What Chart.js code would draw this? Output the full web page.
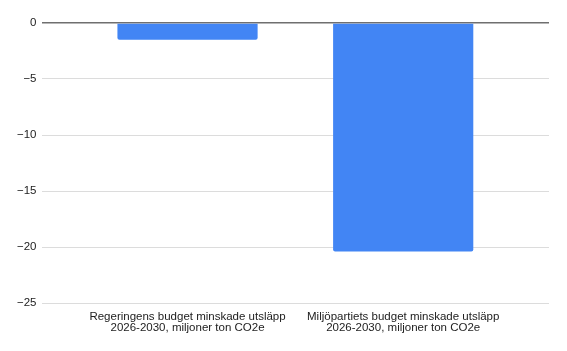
<!DOCTYPE html>
<html>
<head>
<meta charset="utf-8">
<script src="https://cdn.jsdelivr.net/npm/chart.js@4"></script>
<style>
  html, body { margin: 0; padding: 0; background: #fff; }
  #wrap { width: 567px; height: 351px; }
</style>
</head>
<body>
<div id="wrap"><canvas id="chart"></canvas></div>
<script>
const categories = [
  ["Regeringens budget minskade utsläpp", "2026-2030, miljoner ton CO2e"],
  ["Miljöpartiets budget minskade utsläpp", "2026-2030, miljoner ton CO2e"]
];
const values = [-1.5, -20.4];
const yTicks = [0, -5, -10, -15, -20, -25];

const points = values.map((v, i) => ({ x: i, y: v }));

new Chart(document.getElementById("chart"), {
  type: "bar",
  data: {
    datasets: [{
      data: points,
      backgroundColor: "#4285f4",
      borderRadius: 2,
      borderSkipped: "start",
      barPercentage: 0.65,
      categoryPercentage: 1
    }]
  },
  options: {
    responsive: true,
    maintainAspectRatio: false,
    animation: false,
    layout: { padding: { top: 23, right: 18, left: 12, bottom: 17 } },
    plugins: { legend: { display: false }, tooltip: { enabled: false } },
    scales: {
      x: {
        type: "linear",
        offset: false,
        min: -0.677,
        max: 1.676,
        afterBuildTicks: axis => { axis.ticks = categories.map((c, i) => ({ value: i })); },
        grid: { display: false, offset: false },
        border: { display: false },
        ticks: {
          callback: v => categories[v],
          color: "#222",
          font: { family: "Liberation Sans, Arial", size: 11.5, lineHeight: 1.0 },
          maxRotation: 0,
          autoSkip: false,
          padding: 0
        }
      },
      y: {
        min: -25,
        max: 0,
        afterBuildTicks: axis => { axis.ticks = yTicks.map(v => ({ value: v })); },
        border: { display: false },
        grid: {
          color: ctx => ctx.tick && ctx.tick.value === 0 ? "#6f6f6f" : "#dcdcdc",
          lineWidth: ctx => ctx.tick && ctx.tick.value === 0 ? 1.5 : 1,
          drawTicks: false
        },
        ticks: {
          callback: v => String(v).replace("-", "\u2212"),
          color: "#222",
          font: { family: "Liberation Sans, Arial", size: 11.5 },
          padding: 5
        }
      }
    }
  }
});
</script>
</body>
</html>
